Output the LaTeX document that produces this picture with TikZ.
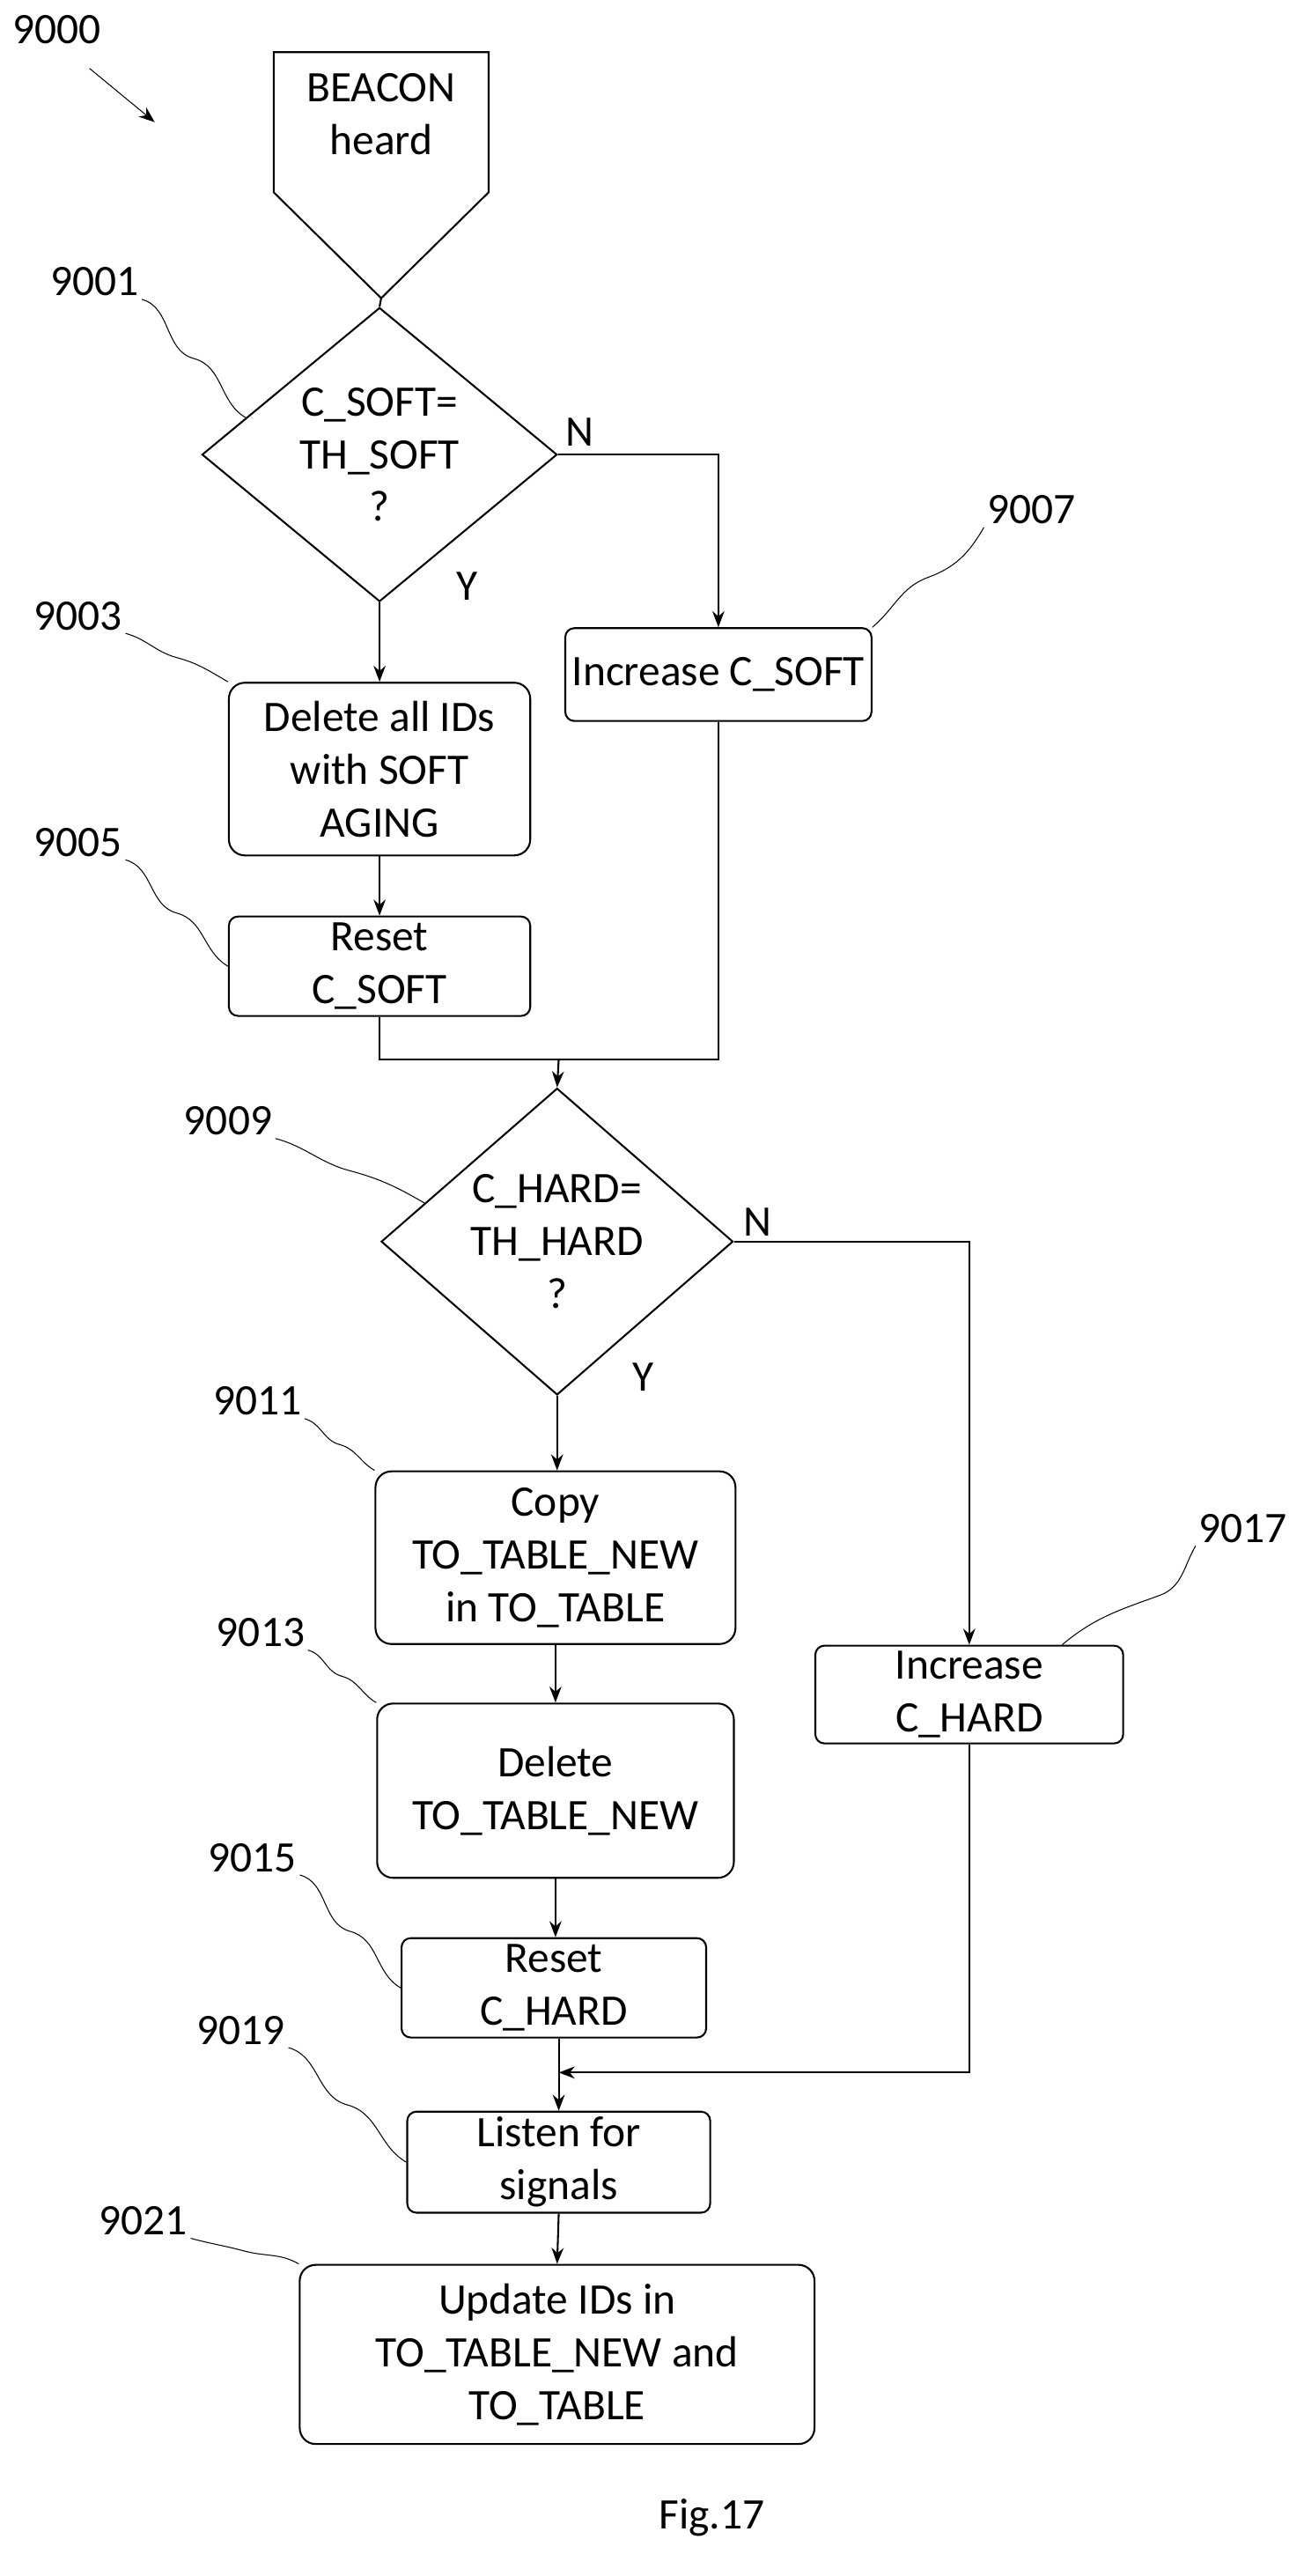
\documentclass[tikz,border=0pt]{standalone}
\usepackage{fontspec}
\setmainfont{Carlito}
\usetikzlibrary{shapes.geometric,calc,arrows.meta}
\tikzset{
  box/.style={draw, thick, rounded corners=7pt, align=center, inner sep=0pt},
  dec/.style={draw, thick, diamond, align=center, inner sep=0pt},
  lbl/.style={inner sep=1pt},
  lead/.style={thin},
  flow/.style={thick, -{Stealth[length=7pt]}},
  sz/.style 2 args={minimum width={#1*0.025cm}, minimum height={#2*0.025cm}},
}
\newcommand{\leader}[2]{\draw[lead] (#1) to[out=-15,in=165] ($(#1)!0.5!(#2)$) to[out=-15,in=150] (#2);}
\begin{document}
\begin{tikzpicture}[x=0.025cm, y=-0.025cm, font=\fontsize{19}{23}\selectfont, line width=0.8pt]
    \useasboundingbox (0,0) rectangle (800,1581);
    % start symbol
    \draw[thick] (168,32) -- (300,32) -- (300,118) -- (234,183) -- (168,118) -- cycle;
    \node[align=center] (start) at (234,70) {BEACON\\heard};
    \coordinate (startb) at (234,183);
    \node[lbl] (l9000) at (35,18) {9000};
    \coordinate (a9000) at (95,75);
    \draw[flow, thin] (55,42) -- (a9000);
    % soft aging branch
    \node[dec, sz={218}{142}] (d1) at (233,279) {C\_SOFT=\\TH\_SOFT\\?};
    \node[box, sz={188}{57}, rounded corners=4pt] (incs) at (441,414) {Increase C\_SOFT};
    \node[box, sz={185}{106}] (dels) at (233,472) {Delete all IDs\\with SOFT\\AGING};
    \node[box, sz={185}{61}, rounded corners=4pt] (rsts) at (233,593) {Reset\\C\_SOFT};
    % hard aging branch
    \node[dec, sz={216}{145}] (d2) at (342,762) {C\_HARD=\\TH\_HARD\\?};
    \node[box, sz={221}{106}] (copy) at (341,956) {Copy\\TO\_TABLE\_NEW\\in TO\_TABLE};
    \node[box, sz={219}{107}] (delh) at (341,1099) {Delete\\TO\_TABLE\_NEW};
    \node[box, sz={187}{61}, rounded corners=4pt] (rsth) at (340,1220) {Reset\\C\_HARD};
    \node[box, sz={189}{60}, rounded corners=4pt] (inch) at (595,1040) {Increase\\C\_HARD};
    \node[box, sz={186}{62}, rounded corners=4pt] (lst) at (343,1327) {Listen for\\signals};
    \node[box, sz={316}{110}] (upd) at (342,1445) {Update IDs in\\TO\_TABLE\_NEW and\\TO\_TABLE};
    % flow
    \draw[thick] (startb) -- (d1.north);
    \draw[flow] (d1.south) -- (dels.north);
    \draw[flow] (d1.east) -| (incs.north);
    \node[lbl] (n1) at (356,265) {N};
    \node[lbl] (y1) at (287,360) {Y};
    \draw[flow] (dels.south) -- (rsts.north);
    \coordinate (m1) at (343,650);
    \draw[thick] (rsts.south) |- (m1);
    \draw[thick] (incs.south) |- (m1);
    \draw[flow] (m1) -- (d2.north);
    \draw[flow] (d2.south) -- (copy.north -| d2.south);
    \draw[flow] (d2.east) -| (inch.north);
    \node[lbl] (n2) at (465,750) {N};
    \node[lbl] (y2) at (395,845) {Y};
    \draw[flow] (copy.south) -- (delh.north);
    \draw[flow] (delh.south) -- (rsth.north -| delh.south);
    \draw[flow] (rsth.south -| lst.north) -- (lst.north);
    \coordinate (m2) at (343,1272);
    \draw[flow] (inch.south) |- (m2);
    \draw[flow] (lst.south) -- (upd.north);
    % reference labels
    \node[lbl] (l9001) at (58,173) {9001};
    \node[lbl] (l9003) at (48,378) {9003};
    \node[lbl] (l9005) at (48,517) {9005};
    \node[lbl] (l9007) at (633,313) {9007};
    \node[lbl] (l9009) at (140,688) {9009};
    \node[lbl] (l9011) at (158,860) {9011};
    \node[lbl] (l9013) at (160,1002) {9013};
    \node[lbl] (l9015) at (155,1140) {9015};
    \node[lbl] (l9017) at (763,938) {9017};
    \node[lbl] (l9019) at (148,1246) {9019};
    \node[lbl] (l9021) at (88,1363) {9021};
    \leader{l9001.south east}{$(d1.north west)!0.5!(d1.west)$}
    \leader{l9003.south east}{dels.north west}
    \leader{l9005.south east}{rsts.west}
    \draw[lead] (l9007.south west) to[out=-120,in=20] ($(l9007.south west)!0.5!(incs.north east)$) to[out=200,in=40] (incs.north east);
    \leader{l9009.south east}{$(d2.north west)!0.5!(d2.west)$}
    \leader{l9011.south east}{copy.north west}
    \leader{l9013.south east}{delh.north west}
    \leader{l9015.south east}{rsth.west}
    \draw[lead] (l9017.south west) to[out=-120,in=20] ($(l9017.south west)!0.5!(inch.north east)$) to[out=200,in=40] ($(inch.north)!0.6!(inch.north east)$);
    \leader{l9019.south east}{lst.west}
    \leader{l9021.south east}{upd.north west}
    \node[lbl] (fig) at (437,1545) {Fig.17};
\end{tikzpicture}
\end{document}
